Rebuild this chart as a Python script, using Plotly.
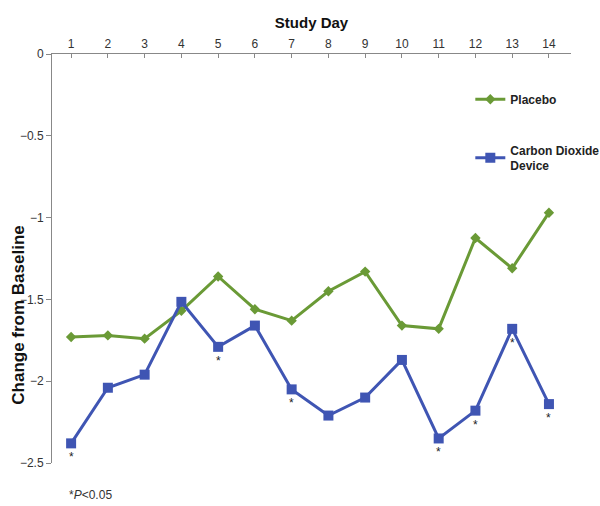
import plotly.graph_objects as go

# Study days and mean change from baseline for each arm
days = list(range(1, 15))
placebo = [-1.73, -1.72, -1.74, -1.57, -1.36, -1.56, -1.63, -1.45, -1.33, -1.66, -1.68, -1.125, -1.31, -0.97]
co2_device = [-2.38, -2.04, -1.96, -1.515, -1.79, -1.66, -2.05, -2.21, -2.10, -1.87, -2.35, -2.18, -1.68, -2.14]

# Days where the device differs significantly from placebo (P<0.05)
significant_days = [1, 5, 7, 11, 12, 13, 14]

y_ticks = [0, -0.5, -1, -1.5, -2, -2.5]

GREEN = "#6A9A36"
BLUE = "#3F55B3"
FONT = "Liberation Sans Narrow, Arial Narrow, Liberation Sans, Arial, sans-serif"
BOLD_FONT = "Liberation Sans, Arial, sans-serif"

fig = go.Figure()

fig.add_trace(go.Scatter(
    x=days, y=placebo, name="<b>Placebo</b>",
    mode="lines+markers",
    line=dict(color=GREEN, width=3),
    marker=dict(symbol="diamond", size=8, color=GREEN),
    legendgroup="a",
))

fig.add_trace(go.Scatter(
    x=days, y=co2_device, name="<b>Carbon Dioxide<br>Device</b>",
    mode="lines+markers",
    line=dict(color=BLUE, width=3),
    marker=dict(symbol="square", size=10, color=BLUE),
    legendgroup="b",
))

# Significance asterisks beneath the device markers
for d in significant_days:
    fig.add_annotation(
        x=d, y=co2_device[days.index(d)], yshift=-14,
        text="*", showarrow=False,
        font=dict(family=BOLD_FONT, size=12, color="#222222"),
    )

fig.update_layout(
    width=600, height=506,
    margin=dict(l=52, r=29, t=54, b=43, autoexpand=False),
    plot_bgcolor="white", paper_bgcolor="white",
    font=dict(family=FONT, size=12, color="#333333"),
    showlegend=True,
    legend=dict(
        x=0.806, y=0.925, xanchor="left", yanchor="top",
        font=dict(family=BOLD_FONT, size=12, color="#222222"),
        tracegroupgap=32, itemwidth=30,
        bgcolor="rgba(0,0,0,0)",
    ),
    xaxis=dict(
        side="top", range=[0.48, 14.6],
        tickmode="array", tickvals=days,
        ticks="inside", ticklen=4, tickcolor="#888888",
        showline=True, linecolor="#888888", linewidth=1,
        showgrid=False, zeroline=False,
        tickfont=dict(size=12, color="#333333"),
        title=dict(text="<b>Study Day</b>", standoff=4,
                   font=dict(family=BOLD_FONT, size=15, color="#111111")),
    ),
    yaxis=dict(
        range=[-2.5, 0],
        tickmode="array", tickvals=y_ticks,
        ticks="outside", ticklen=5, tickcolor="#888888",
        showline=True, linecolor="#888888", linewidth=1,
        showgrid=False, zeroline=False,
        tickfont=dict(size=12, color="#333333"),
    ),
)

# Y-axis title
fig.add_annotation(
    xref="paper", yref="paper", x=-0.064, y=0.362,
    xanchor="center", yanchor="middle", showarrow=False, textangle=-90,
    text="<b>Change from Baseline</b>",
    font=dict(family=BOLD_FONT, size=17, color="#111111"),
)

# Significance footnote
fig.add_annotation(
    xref="paper", yref="paper", x=0.029, y=-0.078,
    xanchor="left", yanchor="middle", showarrow=False,
    text="*<i>P</i><0.05",
    font=dict(family=FONT, size=12, color="#333333"),
)

fig.write_html("out.html")
